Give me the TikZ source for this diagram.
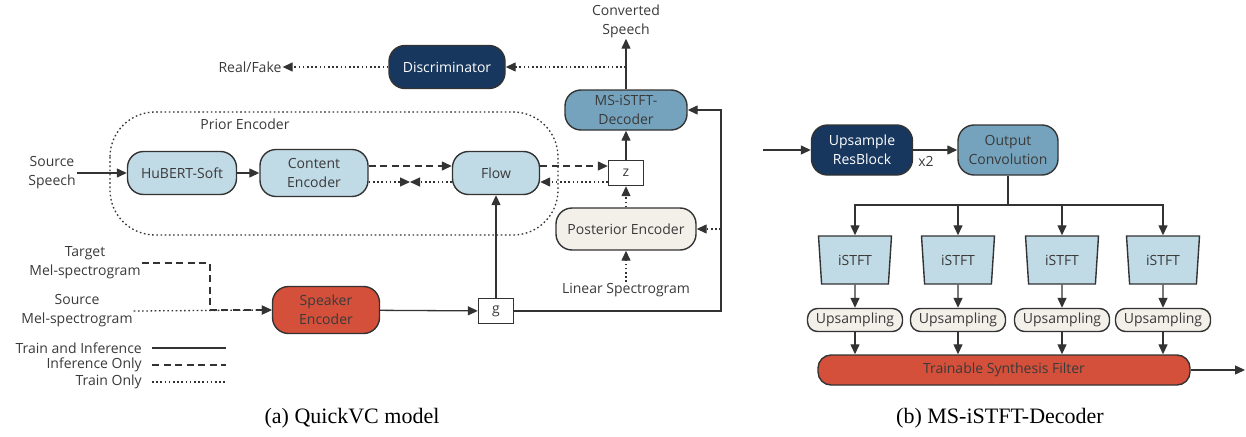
\documentclass[tikz,border=0pt]{standalone}
\usepackage{fontspec}
\setmainfont{Liberation Serif}
\newfontfamily\boxfont{Open Sans}
\usetikzlibrary{arrows.meta,shapes.geometric}
\definecolor{linec}{HTML}{333333}
\definecolor{textc}{HTML}{3A3A3A}
\definecolor{navy}{HTML}{17375E}
\definecolor{steel}{HTML}{75A3BD}
\definecolor{lblue}{HTML}{C0DAE6}
\definecolor{beige}{HTML}{F3EFE9}
\definecolor{redbox}{HTML}{D4503A}
\tikzset{
  lbl/.style={text=textc,align=center,inner sep=1pt,font=\boxfont\fontsize{14}{19}\selectfont},
  blk/.style={lbl,draw=linec,line width=1.4pt,rounded corners=16pt},
  sq/.style={lbl,draw=linec,line width=1.4pt,minimum width=35pt,minimum height=25pt},
  trap/.style={lbl,draw=linec,line width=1.4pt,fill=lblue,trapezium,shape border rotate=180,
    trapezium angle=76,trapezium stretches body,minimum width=73pt,minimum height=48pt},
  line/.style={draw=linec,line width=1.3pt},
  arr/.style={line,-{Triangle[length=10pt,width=9pt]}},
  dots/.style={dash pattern=on 1.6pt off 2.6pt},
  dashes/.style={dash pattern=on 7pt off 4.5pt},
  capt/.style={font=\fontsize{22}{25}\selectfont,inner sep=0pt}
}
\begin{document}
\begin{tikzpicture}[x=1pt,y=-1pt]
\useasboundingbox (0,0) rectangle (1246,436);
% (a) QuickVC model
\draw[line,dots,rounded corners=45pt] (110,112) rectangle (558,235);
\node[lbl] (prior) at (245,124) {Prior Encoder};
\node[lbl] (srcsp) at (52,173) {Source\\Speech};
\node[blk,fill=lblue,minimum width=109pt,minimum height=43pt] (hubert) at (182,173) {HuBERT-Soft};
\node[blk,fill=lblue,minimum width=108pt,minimum height=47pt] (content) at (314,173) {Content\\Encoder};
\node[blk,fill=lblue,minimum width=87pt,minimum height=43pt] (flow) at (496,173) {Flow};
\node[sq] (z) at (626,173) {z};
\node[blk,fill=beige,minimum width=140pt,minimum height=42pt] (post) at (626,229) {Posterior Encoder};
\node[lbl] (linspec) at (626,290) {Linear Spectrogram};
\node[blk,fill=steel,minimum width=122pt,minimum height=40pt] (dec) at (626,110) {MS-iSTFT-\\Decoder};
\node[lbl] (conv) at (626,21) {Converted\\Speech};
\node[blk,fill=navy,text=white,minimum width=116pt,minimum height=43pt] (disc) at (447,67) {Discriminator};
\node[lbl] (real) at (250,67) {Real/Fake};
\node[blk,fill=redbox,minimum width=107pt,minimum height=47pt] (spk) at (326,310) {Speaker\\Encoder};
\node[sq] (g) at (496,311) {g};
\node[lbl] (tgt) at (85,263) {Target\\Mel-spectrogram};
\node[lbl] (smel) at (77,311) {Source\\Mel-spectrogram};
\coordinate (tap) at (dec.north |- disc.east);
\coordinate (tbend) at (210,300);
\coordinate (bus) at (721,311);
\coordinate (kl) at (410,182);

\draw[arr] (srcsp.east) -- (hubert.west);
\draw[arr] (hubert) -- (content);
\draw[arr,dashes] ([yshift=7pt]content.east) -- ([yshift=7pt]flow.west);
\draw[arr,dots] ([yshift=-9pt]content.east) -- (kl);
\draw[arr,dots] ([yshift=-9pt]flow.west) -- (kl);
\draw[arr,dashes] ([yshift=7pt]flow.east) -- ([yshift=7pt]z.west);
\draw[arr,dots] ([yshift=-9pt]z.west) -- ([yshift=-9pt]flow.east);
\draw[arr,dots] (post) -- (z);
\draw[arr,dots] (linspec) -- (post);
\draw[arr] (z) -- (dec);
\draw[arr] (dec) -- (conv);
\draw[arr,dots] (tap) -- (disc.east);
\draw[arr,dots] (disc.west) -- (real.east);
\draw[arr,dashes] (tgt.east) -| (tbend) |- (spk.west);
\draw[arr,dots] (smel.east) -- (spk.west);
\draw[arr] (spk) -- (g);
\draw[arr] (g) -- (flow);
\draw[arr] (g.east) -- (bus) |- (dec.east);
\draw[arr,dots] (bus |- post.east) -- (post.east);
% legend
\node[lbl,anchor=east] (lgA) at (143,348) {Train and Inference};
\node[lbl,anchor=east] (lgB) at (143,365) {Inference Only};
\node[lbl,anchor=east] (lgC) at (143,382) {Train Only};
\draw[line] ([xshift=9pt]lgA.east) -- ([xshift=83pt]lgA.east);
\draw[line,dashes] ([xshift=9pt]lgB.east) -- ([xshift=83pt]lgB.east);
\draw[line,dots] ([xshift=9pt]lgC.east) -- ([xshift=83pt]lgC.east);
\node[capt] (capa) at (352,418) {(a) QuickVC model};

% (b) MS-iSTFT-Decoder
\node[blk,fill=navy,text=white,minimum width=101pt,minimum height=50pt] (urb) at (862,150) {Upsample\\ResBlock};
\node[blk,fill=steel,minimum width=100pt,minimum height=50pt] (oc) at (1008,150) {Output\\Convolution};
\node[lbl] (x2) at (926,161) {x2};
\node[blk,fill=redbox,rounded corners=13pt,minimum width=372pt,minimum height=30pt] (tsf) at (1004,370) {Trainable Synthesis Filter};
\coordinate (inp) at (763,150);
\coordinate (split) at (1008,205);
\coordinate (out) at (1245,370);
\draw[arr] (inp) -- (urb.west);
\draw[arr] (urb) -- (oc);
\draw[line] (oc.south) -- (split);
\foreach \i/\x in {1/855,2/958,3/1062,4/1163}{
  \node[trap] (st\i) at (\x,260) {iSTFT};
  \node[blk,fill=beige,rounded corners=10pt,minimum width=95pt,minimum height=23pt] (up\i) at (\x,320) {Upsampling};
  \draw[arr] (split) -| (st\i.north);
  \draw[arr] (st\i.south) -- (up\i.north);
  \draw[arr] (up\i.south) -- (up\i.south |- tsf.north);
}
\draw[arr] (tsf.east) -- (out);
\node[capt] (capb) at (1000,418) {(b) MS-iSTFT-Decoder};
\end{tikzpicture}
\end{document}
